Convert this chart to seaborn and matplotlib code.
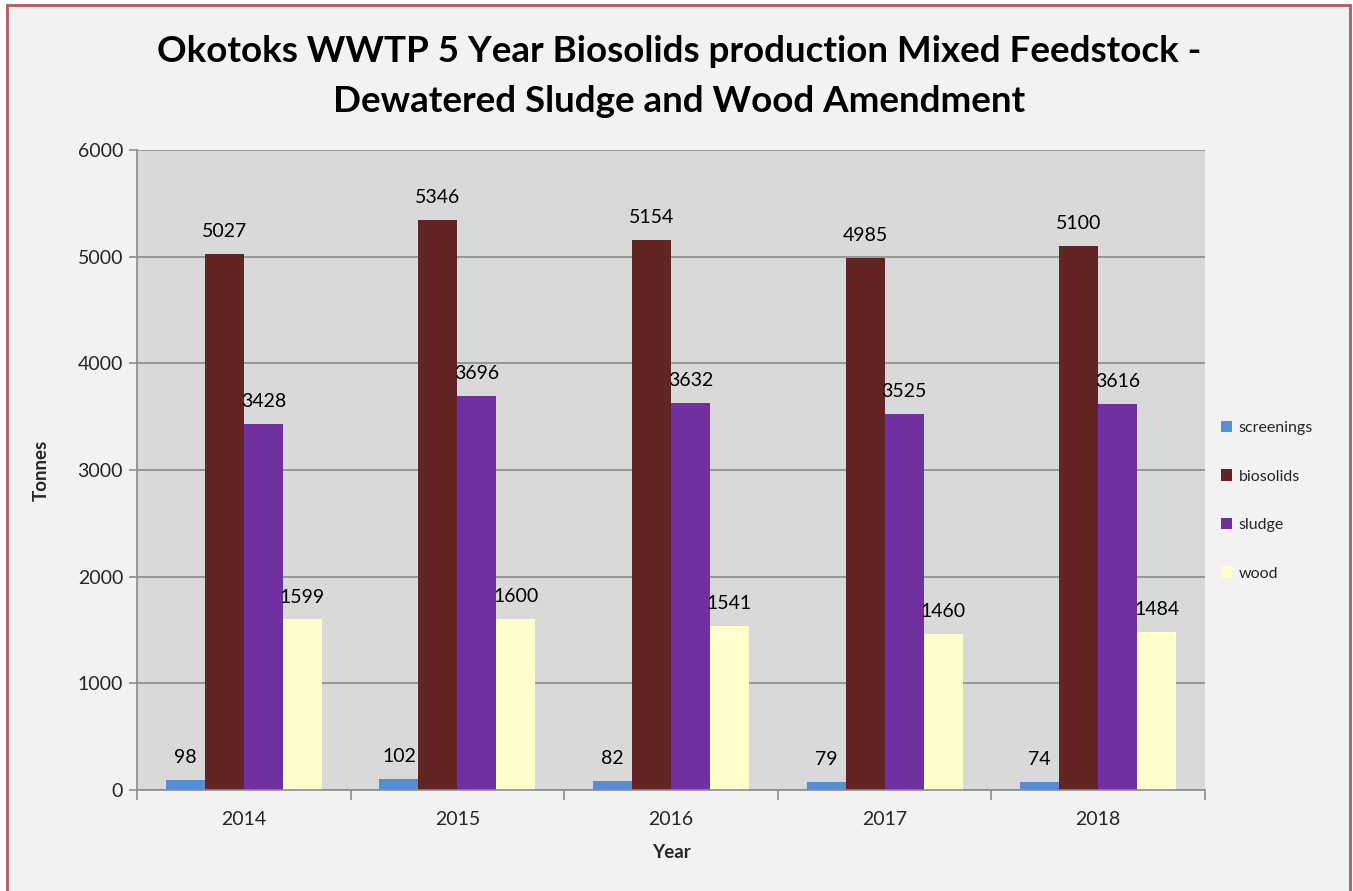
import matplotlib
matplotlib.use("Agg")
import matplotlib.pyplot as plt
import seaborn as sns
import pandas as pd
from matplotlib.patches import Rectangle

years = ["2014", "2015", "2016", "2017", "2018"]
series = ["screenings", "biosolids", "sludge", "wood"]
screenings = [98, 102, 82, 79, 74]
biosolids = [5027, 5346, 5154, 4985, 5100]
sludge = [3428, 3696, 3632, 3525, 3616]
wood = [1599, 1600, 1541, 1460, 1484]
colors = ["#558ED5", "#632523", "#7030A0", "#FFFFCC"]
title_lines = ["Okotoks WWTP 5 Year Biosolids production Mixed Feedstock -",
               "Dewatered Sludge and Wood Amendment"]

rows = []
for name, vals in zip(series, [screenings, biosolids, sludge, wood]):
    for y, v in zip(years, vals):
        rows.append({"Year": y, "series": name, "Tonnes": v})
df = pd.DataFrame(rows)

sns.set_theme(style="white")
plt.rcParams["font.family"] = ["Lato", "DejaVu Sans"]

fig = plt.figure(figsize=(13.53, 8.91), dpi=100, facecolor="#FFFFFF")
fig.patches.append(Rectangle((7/1353, -0.02), (1350-7)/1353, 1-5/891+0.02, transform=fig.transFigure,
                             facecolor="#F2F2F2", edgecolor="#B45A5A", linewidth=2, zorder=-1))

ax = fig.add_axes([137/1353, 1-790/891, (1205-137)/1353, 640/891])
ax.set_facecolor("#D9D9D9")

sns.barplot(data=df, x="Year", y="Tonnes", hue="series", hue_order=series,
            order=years, palette=colors, width=0.73, saturation=1, gap=0,
            linewidth=0, ax=ax, legend=True, errorbar=None)

ax.set_ylim(0, 6000)
ax.set_yticks(range(0, 6001, 1000))
ax.grid(axis="y", color="#8C8C8C", linewidth=1.2)
ax.set_axisbelow(True)
for s in ["top", "right"]:
    ax.spines[s].set_visible(False)
ax.spines["left"].set_color("#8C8C8C")
ax.spines["bottom"].set_color("#8C8C8C")
ax.spines["left"].set_linewidth(1.2)
ax.spines["bottom"].set_linewidth(1.2)
ax.set_xlim(-0.5, 4.5)
ax.tick_params(axis="y", length=6, color="#8C8C8C", width=1.2, labelsize=14, pad=4, left=True)
ax.tick_params(axis="x", length=0, labelsize=14, pad=15)
ax.set_xticks([i - 0.5 for i in range(6)], minor=True)
ax.tick_params(axis="x", which="minor", length=7, color="#8C8C8C", width=1.2, direction="out", bottom=True)

for cont in ax.containers:
    labels = [f"{int(v)}" for v in cont.datavalues]
    ax.bar_label(cont, labels=labels, padding=10, fontsize=14, color="#000000")

ax.set_xlabel("Year", fontsize=13.5, fontweight="bold", labelpad=12)
ax.set_ylabel("Tonnes", fontsize=13.5, fontweight="bold", labelpad=20)

leg = ax.legend(loc="center left", bbox_to_anchor=(1.0, 0.452), frameon=False,
                fontsize=11.5, handlelength=0.7, handleheight=0.7, handletextpad=0.4,
                labelspacing=2.15, borderaxespad=0.6)

for i, line in enumerate(title_lines):
    fig.text(0.502, 1 - (62 + 50 * i) / 891, line, ha="center", va="baseline",
             fontsize=26.5, fontweight="bold", color="#000000")

fig.savefig("out.png", dpi=100, facecolor=fig.get_facecolor())
